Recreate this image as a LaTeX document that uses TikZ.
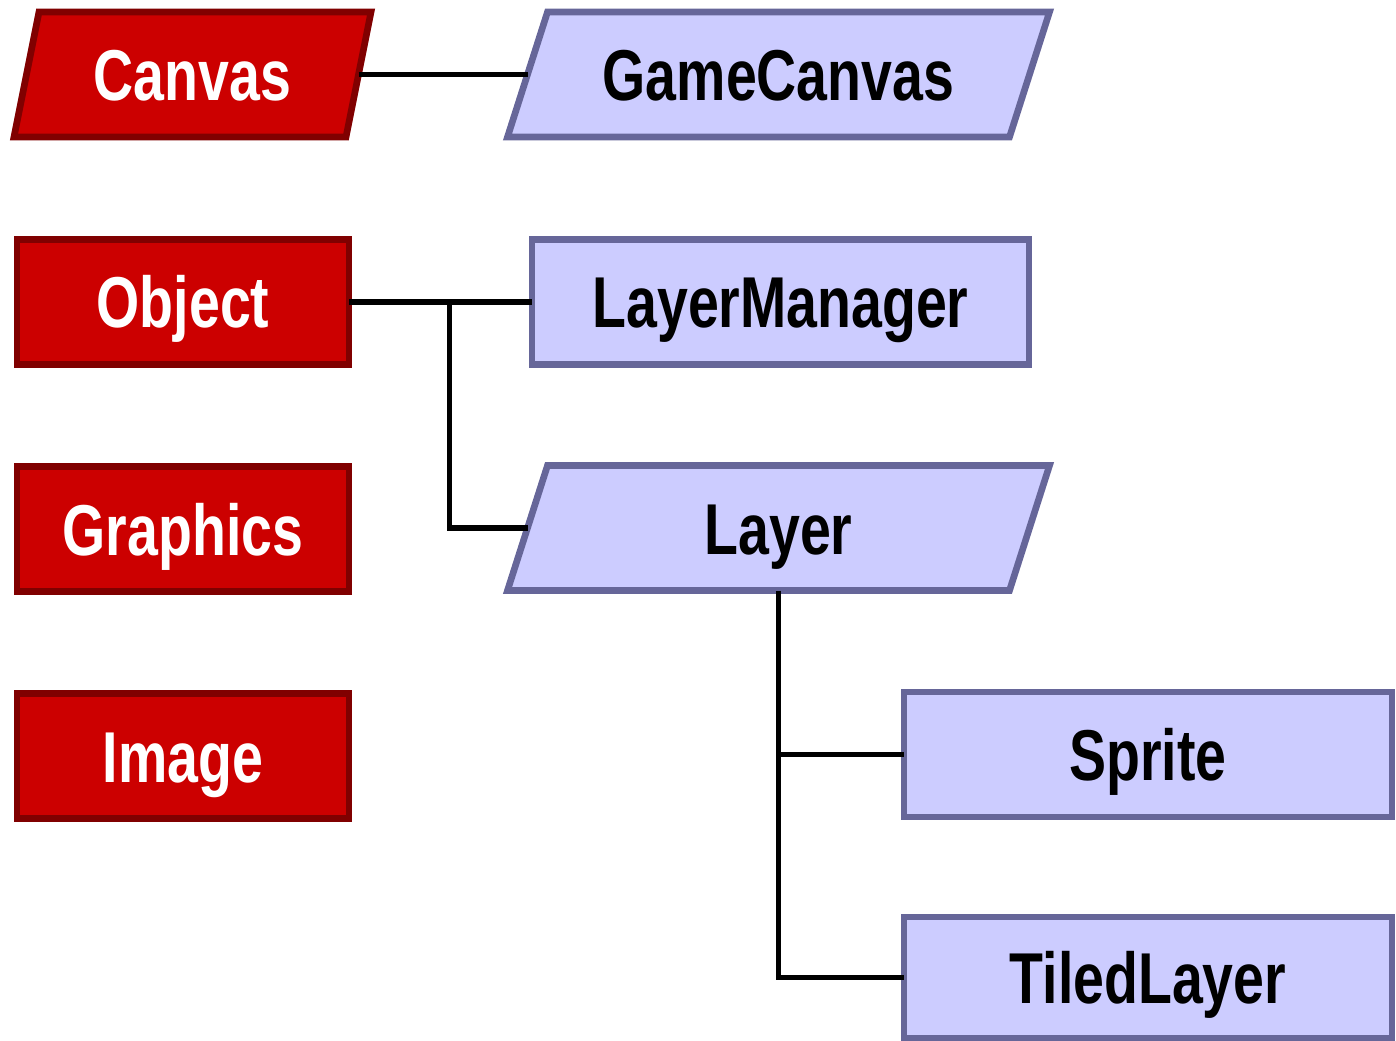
\documentclass[tikz,border=0pt]{standalone}
\usepackage{fontspec}
\setmainfont{Liberation Sans}[FakeStretch=0.77]
\usetikzlibrary{positioning,calc,backgrounds}
\definecolor{JRed}{RGB}{204,0,0}
\definecolor{JRedDark}{RGB}{128,0,0}
\definecolor{JBlue}{RGB}{204,204,255}
\definecolor{JBlueDark}{RGB}{102,102,153}
\tikzset{
  cls/.style={line width=3.8pt,inner sep=0pt,outer sep=0pt,minimum height=2.5cm,
              text height=1.04cm,text depth=0pt,
              font=\fontsize{41}{48}\selectfont\bfseries},
  redcls/.style={cls,draw=JRedDark,fill=JRed,text=white},
  bluecls/.style={cls,draw=JBlueDark,fill=JBlue,text=black},
  slantcls/.style={cls},
  redslant/.style={line width=3.8pt,draw=JRedDark,fill=JRed},
  blueslant/.style={line width=3.8pt,draw=JBlueDark,fill=JBlue},
  link/.style={line width=3.2pt}
}

\begin{document}
\begin{tikzpicture}
        \useasboundingbox (0,0) rectangle (27.92,-20.82);
        % left column
        \node[slantcls,text=white,minimum width=6.64cm] (cnv) at (3.85,-1.49) {Canvas};
        \node[redcls,minimum width=6.64cm] (obj) at (3.66,-6.04) {Object};
        \node[redcls,minimum width=6.64cm,below=2.04cm of obj] (gfx) {Graphics};
        \node[redcls,minimum width=6.64cm,below=2.04cm of gfx] (img) {Image};
        % game api
        \node[slantcls,minimum width=10.04cm] (gcv) at (15.57,-1.49) {GameCanvas};
        \node[bluecls,minimum width=9.94cm] (lmg) at (15.61,-6.04) {LayerManager};
        \node[slantcls,minimum width=10.04cm] (lay) at (15.57,-10.56) {Layer};
        \node[bluecls,minimum width=9.76cm] (spr) at (22.96,-15.09) {Sprite};
        \node[bluecls,minimum width=9.76cm,minimum height=2.42cm] (tld) at (22.96,-19.55) {TiledLayer};
        % slanted outlines
        \begin{scope}[on background layer]
          \filldraw[redslant]
            ([xshift=-2.5mm]cnv.south west) -- ([xshift=2.5mm]cnv.north west) --
            ([xshift=2.5mm]cnv.north east) -- ([xshift=-2.5mm]cnv.south east) -- cycle;
          \filldraw[blueslant]
            ([xshift=-4mm]gcv.south west) -- ([xshift=4mm]gcv.north west) --
            ([xshift=4mm]gcv.north east) -- ([xshift=-4mm]gcv.south east) -- cycle;
          \filldraw[blueslant]
            ([xshift=-4mm]lay.south west) -- ([xshift=4mm]lay.north west) --
            ([xshift=4mm]lay.north east) -- ([xshift=-4mm]lay.south east) -- cycle;
        \end{scope}
        % links
        \draw[link] (cnv.east) -- (gcv.west);
        \draw[link] (obj.east) -- (lmg.west);
        \draw[link] ($(obj.east)!0.55!(lmg.west)$) |- (lay.west);
        \draw[link] (lay.south) |- (tld.west);
        \draw[link] (lay.south |- spr.west) -- (spr.west);
      \end{tikzpicture}
\end{document}
